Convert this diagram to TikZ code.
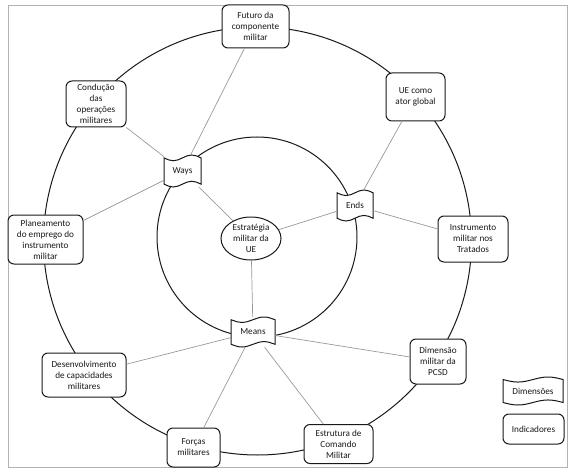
\documentclass[tikz,border=0pt]{standalone}
\usepackage{fontspec}
\setmainfont{Carlito}
\usetikzlibrary{shapes.geometric}
\newcommand\boxfont{\fontsize{9.2}{11}\selectfont}
\newcommand\myflag[6]{%
  \pgfmathsetmacro\fl{#2-#4/2}\pgfmathsetmacro\fr{#2+#4/2}%
  \pgfmathsetmacro\ft{#3-#5/2}\pgfmathsetmacro\fb{#3+#5/2}%
  \pgfmathsetmacro\fa{0.09*#5}%
  \pgfmathsetmacro\fq{#2-#4/4}\pgfmathsetmacro\fqq{#2+#4/4}%
  \pgfmathsetmacro\ftA{\ft+\fa}\pgfmathsetmacro\ftB{\ft+2*\fa}%
  \pgfmathsetmacro\fbA{\fb-\fa}\pgfmathsetmacro\fbB{\fb-2*\fa}%
  \draw[flagline] (\fl,\ftA) sin (\fq,\ftB) cos (#2,\ftA) sin (\fqq,\ft) cos (\fr,\ftA)
     -- (\fr,\fbA) sin (\fqq,\fbB) cos (#2,\fbA) sin (\fq,\fb) cos (\fl,\fbA) -- cycle;
  \node[flagtext, minimum width=#4, minimum height=#5] (#1) at (#2,#3) {#6};}
\newcommand\bx[6]{\node[ibox, minimum width=#4, minimum height=#5] (#1) at (#2,#3) {#6};}
\tikzset{
  ring/.style={draw=black!90, line width=1pt},
  conn/.style={draw=black!40, line width=0.7pt},
  ibox/.style={draw=black!90, line width=1pt, rounded corners=6pt, fill=white,
    align=center, inner sep=1pt, text=black!90, font=\boxfont},
  flagline/.style={draw=black!90, line width=1pt, fill=white},
  flagtext/.style={draw=none, inner sep=0pt, align=center, text=black!90, font=\boxfont},
  ellnode/.style={ellipse, draw=black!90, line width=1pt, fill=white, inner sep=0pt,
    align=center, text=black!90, font=\boxfont},
  frame/.style={draw=black!30, line width=0.8pt}
}
\begin{document}
\begin{tikzpicture}[x=1pt,y=-1pt]
\useasboundingbox (0,0) rectangle (573,476);
\draw[frame] (8,5) rectangle (567,467);
\draw[ring] (257.5,241) circle[radius=214];
\draw[ring] (257,237) circle[radius=100];
% indicators
\bx{futuro}{255.5}{26.5}{67}{43}{Futuro da\\componente\\militar}
\bx{ue}{415.5}{97}{59}{48}{UE como\\ator global}
\bx{instr}{473}{239}{70}{46}{Instrumento\\militar nos\\Tratados}
\bx{dimensao}{438}{361.5}{56}{45}{Dimensão\\militar da\\PCSD}
\bx{estrutura}{338.5}{444}{69}{39}{Estrutura de\\Comando\\Militar}
\bx{forcas}{193.5}{447.5}{53}{39}{Forças\\militares}
\bx{desenv}{84}{375}{84}{44}{Desenvolvimento\\de capacidades\\militares}
\bx{planea}{45.5}{239.5}{75}{49}{Planeamento\\do emprego do\\instrumento\\militar}
\bx{conducao}{96}{104}{60}{46}{Condução\\das\\operações\\militares}
% centre
\node[ellnode, minimum width=60, minimum height=43] (estr) at (251,238.5) {Estratégia\\militar da\\UE};
% dimensions
\myflag{ways}{182.5}{171}{37}{32}{Ways}
\myflag{ends}{355}{205.5}{36}{31}{Ends}
\myflag{means}{253}{332}{44}{30}{Means}
% legend
\myflag{legdim}{533}{391}{60}{28}{Dimensões}
\bx{legind}{533.5}{429}{61}{30}{Indicadores}
% connectors
\draw[conn] (ways) -- (futuro);
\draw[conn] (ways) -- (conducao);
\draw[conn] (ways) -- (planea);
\draw[conn] (ways) -- (estr);
\draw[conn] (ends) -- (ue);
\draw[conn] (ends) -- (instr);
\draw[conn] (ends) -- (estr);
\draw[conn] (means) -- (estr);
\draw[conn] (means) -- (desenv);
\draw[conn] (means) -- (forcas);
\draw[conn] (means) -- (estrutura);
\draw[conn] (means) -- (dimensao);
\end{tikzpicture}
\end{document}
